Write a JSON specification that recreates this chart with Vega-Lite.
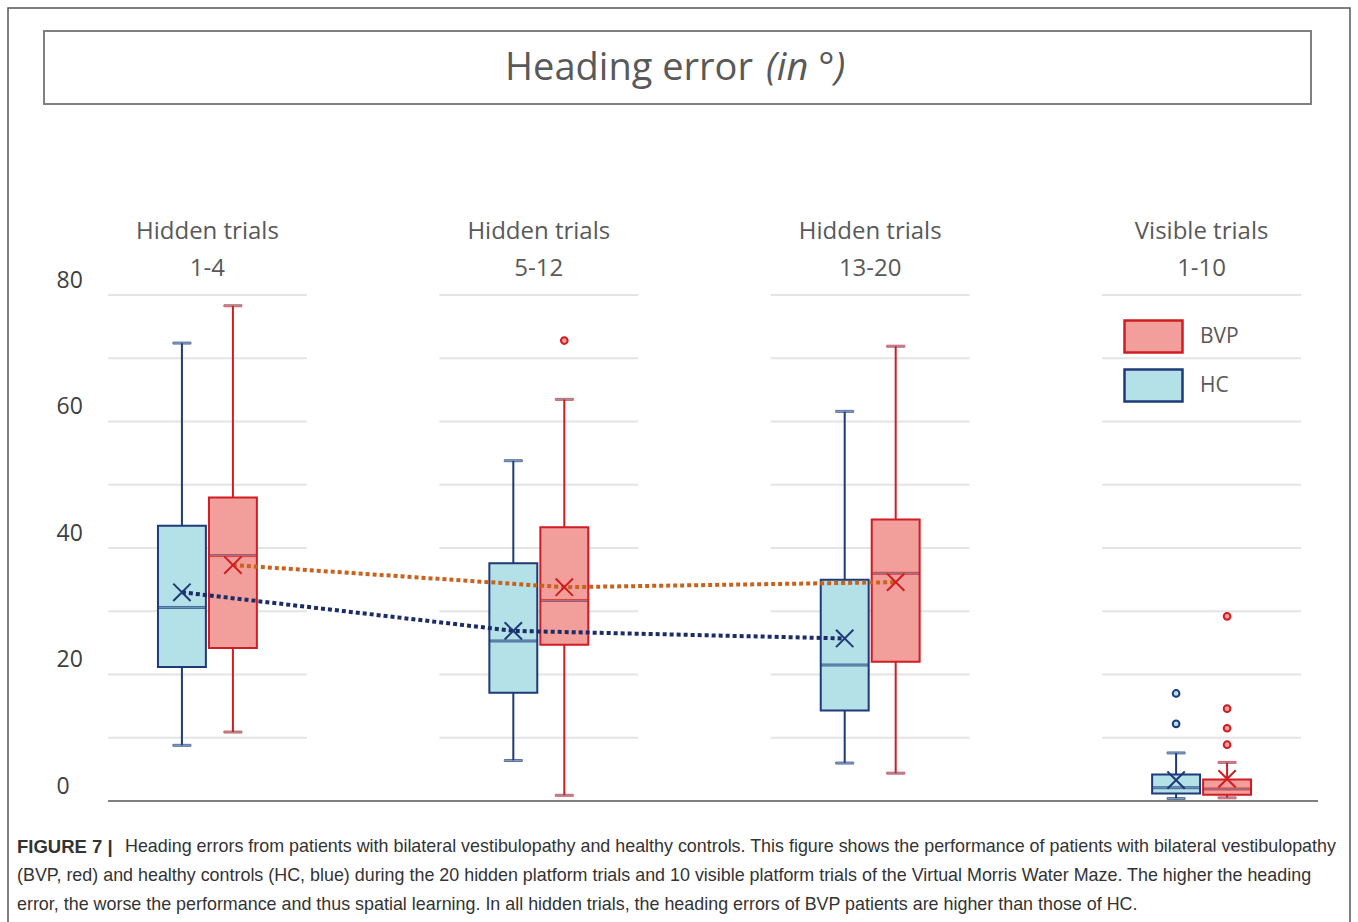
{
  "$schema": "https://vega.github.io/schema/vega-lite/v6.json",
  "width": 1193,
  "height": 506,
  "autosize": {"type": "none"},
  "padding": {"left": 108, "top": 295, "right": 57, "bottom": 121},
  "background": "white",
  "config": {"view": {"stroke": null}, "font": "Open Sans"},
  "datasets": {
    "boxes": [
      {"trial": "Hidden trials|1-4", "group": "HC", "lo": 8.8, "q1": 21.2, "med": 30.6, "q3": 43.5, "hi": 72.4, "mean": 33.0},
      {"trial": "Hidden trials|1-4", "group": "BVP", "lo": 10.9, "q1": 24.2, "med": 38.8, "q3": 48.0, "hi": 78.3, "mean": 37.3},
      {"trial": "Hidden trials|5-12", "group": "HC", "lo": 6.4, "q1": 17.1, "med": 25.3, "q3": 37.6, "hi": 53.8, "mean": 26.9},
      {"trial": "Hidden trials|5-12", "group": "BVP", "lo": 0.9, "q1": 24.7, "med": 31.7, "q3": 43.3, "hi": 63.5, "mean": 33.8},
      {"trial": "Hidden trials|13-20", "group": "HC", "lo": 6.0, "q1": 14.3, "med": 21.5, "q3": 35.0, "hi": 61.6, "mean": 25.7},
      {"trial": "Hidden trials|13-20", "group": "BVP", "lo": 4.4, "q1": 22.0, "med": 36.0, "q3": 44.5, "hi": 71.9, "mean": 34.6},
      {"trial": "Visible trials|1-10", "group": "HC", "lo": 0.4, "q1": 1.2, "med": 2.1, "q3": 4.2, "hi": 7.6, "mean": 3.3},
      {"trial": "Visible trials|1-10", "group": "BVP", "lo": 0.5, "q1": 1.0, "med": 1.9, "q3": 3.4, "hi": 6.1, "mean": 3.5}
    ],
    "outliers": [
      {"trial": "Hidden trials|5-12", "group": "BVP", "value": 72.8},
      {"trial": "Visible trials|1-10", "group": "HC", "value": 17.0},
      {"trial": "Visible trials|1-10", "group": "HC", "value": 12.2},
      {"trial": "Visible trials|1-10", "group": "BVP", "value": 29.2},
      {"trial": "Visible trials|1-10", "group": "BVP", "value": 14.6},
      {"trial": "Visible trials|1-10", "group": "BVP", "value": 11.5},
      {"trial": "Visible trials|1-10", "group": "BVP", "value": 8.9}
    ],
    "grid": [
      {"trial": "Hidden trials|1-4", "v": 10}, {"trial": "Hidden trials|1-4", "v": 20}, {"trial": "Hidden trials|1-4", "v": 30}, {"trial": "Hidden trials|1-4", "v": 40},
      {"trial": "Hidden trials|1-4", "v": 50}, {"trial": "Hidden trials|1-4", "v": 60}, {"trial": "Hidden trials|1-4", "v": 70}, {"trial": "Hidden trials|1-4", "v": 80},
      {"trial": "Hidden trials|5-12", "v": 10}, {"trial": "Hidden trials|5-12", "v": 20}, {"trial": "Hidden trials|5-12", "v": 30}, {"trial": "Hidden trials|5-12", "v": 40},
      {"trial": "Hidden trials|5-12", "v": 50}, {"trial": "Hidden trials|5-12", "v": 60}, {"trial": "Hidden trials|5-12", "v": 70}, {"trial": "Hidden trials|5-12", "v": 80},
      {"trial": "Hidden trials|13-20", "v": 10}, {"trial": "Hidden trials|13-20", "v": 20}, {"trial": "Hidden trials|13-20", "v": 30}, {"trial": "Hidden trials|13-20", "v": 40},
      {"trial": "Hidden trials|13-20", "v": 50}, {"trial": "Hidden trials|13-20", "v": 60}, {"trial": "Hidden trials|13-20", "v": 70}, {"trial": "Hidden trials|13-20", "v": 80},
      {"trial": "Visible trials|1-10", "v": 10}, {"trial": "Visible trials|1-10", "v": 20}, {"trial": "Visible trials|1-10", "v": 30}, {"trial": "Visible trials|1-10", "v": 40},
      {"trial": "Visible trials|1-10", "v": 50}, {"trial": "Visible trials|1-10", "v": 60}, {"trial": "Visible trials|1-10", "v": 70}, {"trial": "Visible trials|1-10", "v": 80}
    ]
  },
  "layer": [
    {
      "data": {"name": "grid"},
      "mark": {"type": "tick", "size": 199, "thickness": 2, "color": "#d9d9d9"},
      "encoding": {
        "x": {
          "field": "trial", "type": "nominal",
          "scale": {"domain": ["Hidden trials|1-4", "Hidden trials|5-12", "Hidden trials|13-20", "Visible trials|1-10"], "paddingInner": 0.4, "paddingOuter": 0},
          "axis": {"orient": "top", "title": null, "domain": false, "ticks": false, "tickSize": 0, "labelAngle": 0, "labelExpr": "split(datum.label, '|')", "labelFont": "Open Sans", "labelFontSize": 24, "labelLineHeight": 37, "labelColor": "#595959", "labelPadding": 52}
        },
        "y": {
          "field": "v", "type": "quantitative",
          "scale": {"domain": [0, 80], "nice": false},
          "axis": {"title": null, "values": [0, 20, 40, 60, 80], "domain": false, "ticks": false, "tickSize": 0, "grid": false, "labelAlign": "left", "labelPadding": 52, "labelOffset": -15, "labelFont": "Open Sans", "labelFontSize": 23, "labelColor": "#404040"}
        }
      }
    },
    {
      "data": {"values": [{}]},
      "mark": {"type": "rule", "color": "#808080", "strokeWidth": 2, "x": 0, "x2": 1210},
      "encoding": {"y": {"datum": 0, "type": "quantitative"}}
    },
    {
      "data": {"name": "boxes"},
      "mark": {"type": "rule", "strokeWidth": 2},
      "encoding": {
        "x": {"field": "trial", "type": "nominal"},
        "xOffset": {"field": "group", "type": "nominal", "scale": {"domain": ["HC", "BVP"], "paddingInner": 0.06, "paddingOuter": 0.98}},
        "y": {"field": "lo", "type": "quantitative"},
        "y2": {"field": "hi"},
        "stroke": {"field": "group", "type": "nominal", "scale": {"domain": ["BVP", "HC"], "range": ["#D01C22", "#1E3A78"]}}
      }
    },
    {
      "data": {"name": "boxes"},
      "mark": {"type": "tick", "size": 18, "thickness": 2},
      "encoding": {
        "x": {"field": "trial", "type": "nominal"},
        "xOffset": {"field": "group", "type": "nominal"},
        "y": {"field": "lo", "type": "quantitative"},
        "stroke": {"field": "group", "type": "nominal"}
      }
    },
    {
      "data": {"name": "boxes"},
      "mark": {"type": "tick", "size": 18, "thickness": 2},
      "encoding": {
        "x": {"field": "trial", "type": "nominal"},
        "xOffset": {"field": "group", "type": "nominal"},
        "y": {"field": "hi", "type": "quantitative"},
        "stroke": {"field": "group", "type": "nominal"}
      }
    },
    {
      "data": {"name": "boxes"},
      "mark": {"type": "bar", "strokeWidth": 2, "fillOpacity": 1},
      "encoding": {
        "x": {"field": "trial", "type": "nominal"},
        "xOffset": {"field": "group", "type": "nominal"},
        "y": {"field": "q1", "type": "quantitative"},
        "y2": {"field": "q3"},
        "fill": {
          "field": "group", "type": "nominal",
          "scale": {"domain": ["BVP", "HC"], "range": ["#F29E9A", "#B4E0E7"]},
          "legend": {"orient": "none", "legendX": 1015, "legendY": 19, "title": null, "padding": 0, "symbolType": "M-1,-0.55H1V0.55H-1Z", "symbolSize": 3364, "symbolStrokeWidth": 2.5, "symbolOpacity": 1, "labelFont": "Open Sans", "labelFontSize": 21, "labelColor": "#595959", "labelOffset": 16, "clipHeight": 45, "rowPadding": 4,
            "encoding": {"symbols": {"update": {"opacity": {"value": 1}, "fillOpacity": {"value": 1}, "strokeOpacity": {"value": 1}}}}}
        },
        "stroke": {
          "field": "group", "type": "nominal",
          "legend": {"orient": "none", "legendX": 1015, "legendY": 19, "title": null, "padding": 0, "symbolType": "M-1,-0.55H1V0.55H-1Z", "symbolSize": 3364, "symbolStrokeWidth": 2.5, "symbolOpacity": 1, "labelFont": "Open Sans", "labelFontSize": 21, "labelColor": "#595959", "labelOffset": 16, "clipHeight": 45, "rowPadding": 4,
            "encoding": {"symbols": {"update": {"opacity": {"value": 1}, "fillOpacity": {"value": 1}, "strokeOpacity": {"value": 1}}}}}
        }
      }
    },
    {
      "data": {"name": "boxes"},
      "mark": {"type": "tick", "size": 47, "thickness": 2},
      "encoding": {
        "x": {"field": "trial", "type": "nominal"},
        "xOffset": {"field": "group", "type": "nominal"},
        "y": {"field": "med", "type": "quantitative"},
        "stroke": {"field": "group", "type": "nominal"}
      }
    },
    {
      "data": {"name": "boxes"},
      "transform": [{"filter": "datum.trial != 'Visible trials|1-10'"}],
      "mark": {"type": "line", "strokeWidth": 4, "strokeDash": [4, 3], "strokeCap": "butt"},
      "encoding": {
        "x": {"field": "trial", "type": "nominal"},
        "xOffset": {"field": "group", "type": "nominal"},
        "y": {"field": "mean", "type": "quantitative"},
        "color": {"field": "group", "type": "nominal", "scale": {"domain": ["BVP", "HC"], "range": ["#C8621C", "#1C2C66"]}, "legend": null}
      }
    },
    {
      "data": {"name": "boxes"},
      "mark": {"type": "point", "shape": "M-1,-1L1,1M-1,1L1,-1", "size": 300, "strokeWidth": 2, "filled": false, "opacity": 1},
      "encoding": {
        "x": {"field": "trial", "type": "nominal"},
        "xOffset": {"field": "group", "type": "nominal"},
        "y": {"field": "mean", "type": "quantitative"},
        "stroke": {"field": "group", "type": "nominal"}
      }
    },
    {
      "data": {"name": "outliers"},
      "mark": {"type": "point", "shape": "circle", "size": 45, "strokeWidth": 2, "filled": true, "opacity": 1},
      "encoding": {
        "x": {"field": "trial", "type": "nominal"},
        "xOffset": {"field": "group", "type": "nominal"},
        "y": {"field": "value", "type": "quantitative"},
        "fill": {"field": "group", "type": "nominal"},
        "stroke": {"field": "group", "type": "nominal"}
      }
    },
    {
      "data": {"values": [{}]},
      "mark": {"type": "rect", "x": -100, "x2": 1242, "y": -287, "y2": 640, "fill": "white", "fillOpacity": 0, "stroke": "#555555", "strokeWidth": 1.5},
      "encoding": {}
    },
    {
      "data": {"values": [{}]},
      "mark": {"type": "rect", "x": -64, "x2": 1203, "y": -264, "y2": -191, "fill": "white", "fillOpacity": 0, "stroke": "#808080", "strokeWidth": 2},
      "encoding": {}
    },
    {
      "data": {"values": [{}]},
      "mark": {"type": "text", "text": "Heading error", "x": 645, "y": -226, "align": "right", "baseline": "middle", "font": "Open Sans", "fontSize": 38, "color": "#595959"},
      "encoding": {}
    },
    {
      "data": {"values": [{}]},
      "mark": {"type": "text", "text": "(in °)", "x": 658, "y": -226, "align": "left", "baseline": "middle", "font": "Open Sans", "fontSize": 38, "fontStyle": "italic", "color": "#595959"},
      "encoding": {}
    },
    {
      "data": {"values": [{}]},
      "mark": {"type": "text", "text": "FIGURE 7 |", "x": -91, "y": 552, "align": "left", "baseline": "middle", "font": "Liberation Sans", "fontSize": 18.5, "fontWeight": "bold", "color": "#333333"},
      "encoding": {}
    },
    {
      "data": {"values": [{}]},
      "mark": {"type": "text", "text": "Heading errors from patients with bilateral vestibulopathy and healthy controls. This figure shows the performance of patients with bilateral vestibulopathy", "x": 17, "y": 552, "align": "left", "baseline": "middle", "font": "Liberation Sans", "fontSize": 17.9, "color": "#333333"},
      "encoding": {}
    },
    {
      "data": {"values": [{}]},
      "mark": {"type": "text", "text": "(BVP, red) and healthy controls (HC, blue) during the 20 hidden platform trials and 10 visible platform trials of the Virtual Morris Water Maze. The higher the heading", "x": -91, "y": 581, "align": "left", "baseline": "middle", "font": "Liberation Sans", "fontSize": 17.9, "color": "#333333"},
      "encoding": {}
    },
    {
      "data": {"values": [{}]},
      "mark": {"type": "text", "text": "error, the worse the performance and thus spatial learning. In all hidden trials, the heading errors of BVP patients are higher than those of HC.", "x": -91, "y": 610, "align": "left", "baseline": "middle", "font": "Liberation Sans", "fontSize": 17.9, "color": "#333333"},
      "encoding": {}
    }
  ]
}
